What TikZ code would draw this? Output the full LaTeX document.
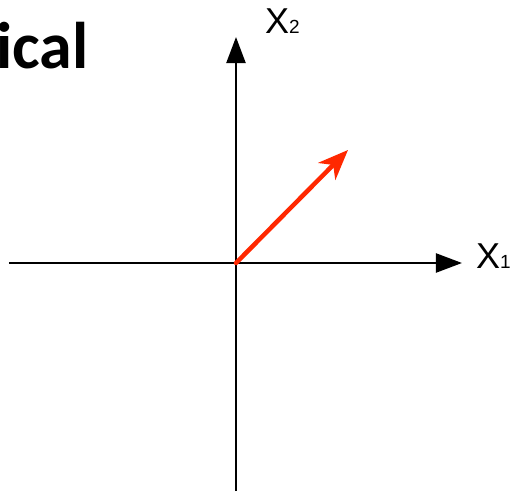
\documentclass[tikz,border=0pt]{standalone}
\usepackage{fontspec}
\setmainfont{Liberation Sans}
\newfontfamily\titlefont{Carlito}
\usetikzlibrary{arrows.meta}
\definecolor{vecred}{RGB}{255,40,0}
\tikzset{
  axis/.style={line width=2.2pt,-{Triangle[length=26pt,width=19pt]}},
  axlabel/.style={anchor=base west,inner sep=0,font=\fontsize{36}{40}\selectfont},
}
\newcommand{\subidx}[1]{{\fontsize{19}{22}\selectfont #1}}

\begin{document}
\begin{tikzpicture}[x=1pt,y=1pt]
  \useasboundingbox (-236,-228) rectangle (279,263); % 515x491
  \coordinate (O) at (0,0);
  \coordinate (xl) at (-227,0);
  \coordinate (xr) at (226,0);
  \coordinate (yb) at (0,-228);
  \coordinate (yt) at (0,226);
  \coordinate (v) at (112,113);
  \node[anchor=base west,inner sep=0,font=\titlefont\bfseries\fontsize{66}{72}\selectfont] (ttl) at (-240,195) {ical};
  \draw[axis] (xl) -- (xr); % X1軸
  \draw[axis] (yb) -- (yt); % X2軸
  \draw[vecred,line width=4.5pt,line cap=round,-{Stealth[length=30pt,width=24pt,inset=9pt]}] (O) -- (v); % ベクトル
  \node[axlabel] (x1) at (240,-5) {X\subidx{1}};
  \node[axlabel] (x2) at (29,230) {X\subidx{2}};
\end{tikzpicture}
\end{document}
